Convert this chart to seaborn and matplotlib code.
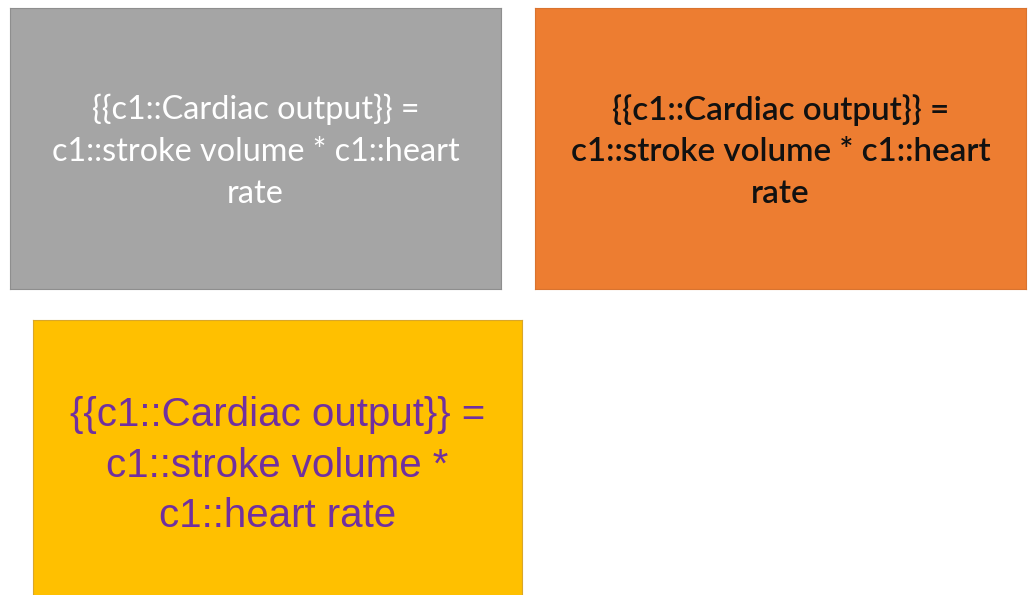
import matplotlib
matplotlib.use("Agg")
import matplotlib.pyplot as plt
import seaborn as sns

# card contents
card_lines = [
    ["{{c1::Cardiac output}} =", "c1::stroke volume * c1::heart", "rate"],
    ["{{c1::Cardiac output}} =", "c1::stroke volume * c1::heart", "rate"],
    ["{{c1::Cardiac output}} =", "c1::stroke volume *", "c1::heart rate"],
]
fill_colors = ["#A5A5A5", "#ED7D31", "#FFC000"]
text_colors = ["#FFFFFF", "#111111", "#7030A0"]
edge_colors = ["#8E8E8E", "#D9732F", "#D9A62A"]
font_families = ["Lato", "Lato", "Liberation Sans"]
font_weights = ["normal", "semibold", "normal"]
font_sizes = [23.3, 23.9, 29]
line_spacings = [1.5, 1.48, 1.43]

# card rectangles in pixels: left, top, width, height
W, H = 1032, 595
card_boxes = [(10, 8, 491, 281), (535, 8, 491, 281), (33, 320, 489, 281)]
text_y = [0.489, 0.489, 0.482]

sns.set_theme(style="white")

fig = plt.figure(figsize=(W / 100, H / 100), dpi=100)
fig.patch.set_facecolor("white")

for lines, fc, tc, ec, fam, fw, fs, ls, (x, y, w, h), ty in zip(
    card_lines, fill_colors, text_colors, edge_colors, font_families,
    font_weights, font_sizes, line_spacings, card_boxes, text_y,
):
    ax = fig.add_axes([x / W, 1 - (y + h) / H, w / W, h / H])
    ax.set_facecolor(fc)
    ax.set_xticks([])
    ax.set_yticks([])
    for spine in ax.spines.values():
        spine.set_visible(True)
        spine.set_color(ec)
        spine.set_linewidth(0.8)
    ax.text(0.5, ty, "\n".join(lines), transform=ax.transAxes,
            ha="center", va="center", multialignment="center",
            color=tc, fontsize=fs, fontweight=fw,
            family=[fam, "DejaVu Sans"], linespacing=ls)

fig.savefig("out.png", dpi=100)
plt.close(fig)
